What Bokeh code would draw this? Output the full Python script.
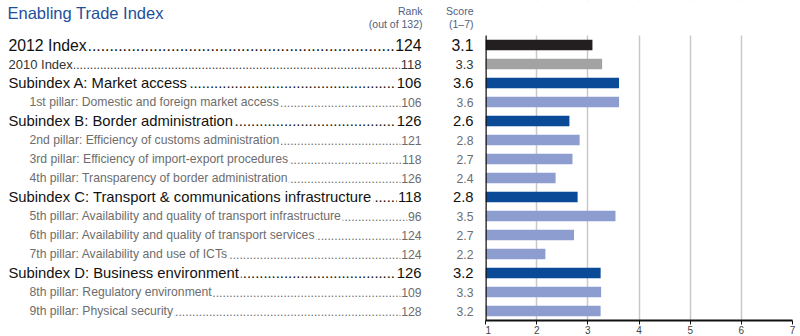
from bokeh.plotting import figure
from bokeh.layouts import row
from bokeh.models import Range1d, FixedTicker, ColumnDataSource
from bokeh.core.properties import value
from bokeh.embed import file_html
from bokeh.resources import INLINE

labels = [
    "2012 Index", "2010 Index",
    "Subindex A: Market access",
    "1st pillar: Domestic and foreign market access",
    "Subindex B: Border administration",
    "2nd pillar: Efficiency of customs administration",
    "3rd pillar: Efficiency of import-export procedures",
    "4th pillar: Transparency of border administration",
    "Subindex C: Transport & communications infrastructure",
    "5th pillar: Availability and quality of transport infrastructure",
    "6th pillar: Availability and quality of transport services",
    "7th pillar: Availability and use of ICTs",
    "Subindex D: Business environment",
    "8th pillar: Regulatory environment",
    "9th pillar: Physical security",
]
ranks = ["124", "118", "106", "106", "126", "121", "118", "126", "118", "96", "124", "124", "126", "109", "128"]
score_labels = ["3.1", "3.3", "3.6", "3.6", "2.6", "2.8", "2.7", "2.4", "2.8", "3.5", "2.7", "2.2", "3.2", "3.3", "3.2"]
scores = [3.09, 3.28, 3.61, 3.61, 2.64, 2.84, 2.70, 2.37, 2.80, 3.54, 2.73, 2.17, 3.25, 3.26, 3.25]
kinds = ["main", "prev", "sub", "pillar", "sub", "pillar", "pillar", "pillar", "sub",
         "pillar", "pillar", "pillar", "sub", "pillar", "pillar"]
x_ticks = [1, 2, 3, 4, 5, 6, 7]

NARROW = "'Liberation Sans Narrow', 'Liberation Sans', sans-serif"
REG = "'Liberation Sans', Arial, sans-serif"
style = {
    "main":   dict(font=REG, size=15.8, color="#111111", indent=8, bar="#231f20", rpad=2),
    "prev":   dict(font=NARROW, size=13, color="#333333", indent=8, bar="#a3a3a3", rpad=1),
    "sub":    dict(font=REG, size=14.8, color="#111111", indent=8, bar="#0a4a96", rpad=2),
    "pillar": dict(font=REG, size=12.2, color="#6d6d6d", indent=29, bar="#8e9dcf", rpad=1),
}

W, H = 800, 336
TOP, BOTTOM_BORDER = 35, 16
n = len(labels)
ROWH = (H - TOP - BOTTOM_BORDER) / n
LEFTW = 485
RANK_X = 421
SCORE_X = 473
DOT_EM = 0.2778

def py(px):
    """convert a pixel offset from the top of the page into row units"""
    return (px - TOP) / ROWH

y_range = Range1d(n, py(0))

# ---------- left text panel ----------
left = figure(width=LEFTW, height=H, x_range=Range1d(0, LEFTW), y_range=y_range,
              toolbar_location=None, output_backend="svg",
              min_border_left=0, min_border_right=0, min_border_top=0, min_border_bottom=BOTTOM_BORDER)
left.axis.visible = False
left.grid.visible = False
left.outline_line_color = None

for i, (lab, rk, sc, k) in enumerate(zip(labels, ranks, score_labels, kinds)):
    s = style[k]
    y = i + 0.5
    fnt = value(s["font"])
    fs = f"{s['size']}px"
    dsize = min(s["size"], 12.2) if k == "prev" else s["size"]
    ndots = int((RANK_X - 2 - s["indent"]) / (DOT_EM * dsize))
    left.text(x=[s["indent"]], y=[y], text=["." * ndots], text_font=value(REG), text_font_size=f"{dsize}px",
              text_color=s["color"], text_align="left", text_baseline="middle")
    left.text(x=[s["indent"]], y=[y], text=[lab], text_font=fnt, text_font_size=fs,
              text_color=s["color"], text_align="left", text_baseline="middle",
              background_fill_color="white", padding=dict(left=0, right=s["rpad"], top=0, bottom=0))
    left.text(x=[RANK_X], y=[y], text=[rk], text_font=fnt, text_font_size=fs,
              text_color=s["color"], text_align="right", text_baseline="middle",
              background_fill_color="white", padding=dict(left=1, right=0, top=0, bottom=0))
    left.text(x=[SCORE_X], y=[y], text=[sc], text_font=fnt, text_font_size=fs,
              text_color=s["color"], text_align="right", text_baseline="middle")

left.text(x=[7], y=[py(12)], text=["Enabling Trade Index"], text_font=value(REG),
          text_font_size="16.5px", text_color="#1e4f9c", text_align="left", text_baseline="middle")
hdr = "#4f6180"
left.text(x=[RANK_X + 1, RANK_X + 1], y=[py(10), py(23)], text=["Rank", "(out of 132)"],
          text_font=value(NARROW), text_font_size="10.5px", text_color=hdr,
          text_align="right", text_baseline="middle")
left.text(x=[SCORE_X, SCORE_X], y=[py(10), py(23)], text=["Score", "(1–7)"],
          text_font=value(NARROW), text_font_size="10.5px", text_color=hdr,
          text_align="right", text_baseline="middle")

# ---------- right bar panel ----------
src = ColumnDataSource(dict(
    y=[i + 0.5 for i in range(n)],
    right=scores,
    color=[style[k]["bar"] for k in kinds],
))
right = figure(width=W - LEFTW, height=H, x_range=Range1d(1, 7), y_range=y_range,
               toolbar_location=None, output_backend="svg",
               min_border_left=0, min_border_right=8, min_border_top=0, min_border_bottom=BOTTOM_BORDER)
right.hbar(y="y", left=1, right="right", height=0.55, fill_color="color", line_color=None, source=src)
# hide the grid above the first row (header area)
right.quad(left=[1], right=[7], top=[py(0)], bottom=[0], fill_color="white", line_color=None)
# left spine of the bar area
right.segment(x0=[1], y0=[0], x1=[1], y1=[n], line_color="#111111", line_width=2.5)
right.yaxis.visible = False
right.ygrid.visible = False
right.outline_line_color = None
right.xgrid.ticker = FixedTicker(ticks=x_ticks)
right.xgrid.grid_line_color = "#c8c8c8"
right.xgrid.grid_line_width = 1.5
right.xaxis.ticker = FixedTicker(ticks=x_ticks)
right.xaxis.axis_line_color = "#111111"
right.xaxis.axis_line_width = 2
right.xaxis.major_tick_line_color = "#111111"
right.xaxis.major_tick_in = 0
right.xaxis.major_tick_out = 4
right.xaxis.minor_tick_line_color = None
right.xaxis.major_label_standoff = 1
right.xaxis.major_label_text_font = REG
right.xaxis.major_label_text_font_size = "10px"
right.xaxis.major_label_text_color = "#444444"

layout = row(left, right)
open("out.html", "w").write(file_html(layout, INLINE))
